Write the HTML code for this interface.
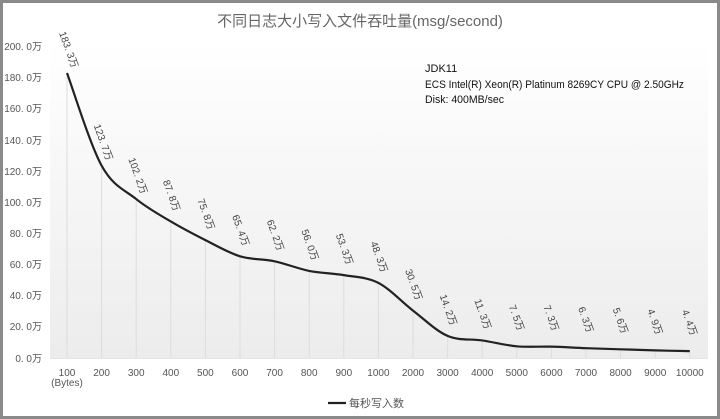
<!DOCTYPE html>
<html><head><meta charset="utf-8"><style>
html,body{margin:0;padding:0;background:#fff;}
svg{display:block;font-family:"Liberation Sans","Noto Sans CJK SC",sans-serif;}
</style></head><body>
<svg width="720" height="419" viewBox="0 0 720 419" xmlns="http://www.w3.org/2000/svg">
<defs><linearGradient id="g" x1="0" y1="0" x2="0" y2="1"><stop offset="0" stop-color="#fff"/><stop offset="1" stop-color="#ececec"/></linearGradient></defs>
<rect x="0" y="0" width="720" height="419" fill="#fff"/>
<rect x="50" y="40" width="658" height="318" fill="url(#g)"/>
<rect x="1.5" y="1.5" width="717" height="416" fill="none" stroke="#8a8a8a" stroke-width="3"/>
<text x="360" y="26" text-anchor="middle" font-size="15" fill="#666">不同日志大小写入文件吞吐量(msg/second)</text>
<g font-size="10" fill="#555" text-anchor="end">
<text x="42" y="50">200. 0万</text><text x="42" y="81">180. 0万</text><text x="42" y="112">160. 0万</text><text x="42" y="144">140. 0万</text><text x="42" y="175">120. 0万</text><text x="42" y="206">100. 0万</text><text x="42" y="237">80. 0万</text><text x="42" y="268">60. 0万</text><text x="42" y="299">40. 0万</text><text x="42" y="330">20. 0万</text><text x="42" y="362">0. 0万</text>
</g>
<g stroke="#ddd" stroke-width="1" id="grid"></g>
<line x1="50" y1="358.5" x2="708" y2="358.5" stroke="#e4e4e4"/>
<g font-size="10" fill="#555" text-anchor="middle" id="xl"></g>
<text x="67" y="386" font-size="10" fill="#555" text-anchor="middle">(Bytes)</text>
<path id="ln" fill="none" stroke="#222" stroke-width="2.2" stroke-linejoin="round"/>
<g font-size="10" fill="#444" id="dl"></g>
<g font-size="11" fill="#111"><text x="425" y="72">JDK11</text><text x="425" y="88" textLength="259" lengthAdjust="spacingAndGlyphs">ECS Intel(R) Xeon(R) Platinum 8269CY CPU @ 2.50GHz</text><text x="425" y="103" textLength="79" lengthAdjust="spacingAndGlyphs">Disk: 400MB/sec</text></g>
<line x1="328" y1="403" x2="346" y2="403" stroke="#222" stroke-width="2.2"/>
<text x="349" y="407" font-size="11" fill="#555">每秒写入数</text>
</svg>
<script>
var v=[183.3,123.7,102.2,87.8,75.8,65.4,62.2,56.0,53.3,48.3,30.5,14.2,11.3,7.5,7.3,6.3,5.6,4.9,4.4];
var xs=["100","200","300","400","500","600","700","800","900","1000","2000","3000","4000","5000","6000","7000","8000","9000","10000"];
var ns="http://www.w3.org/2000/svg",P=[];
for(var i=0;i<v.length;i++)P.push([67+34.6*i,358-1.555*v[i]]);
var d="M"+P[0][0]+","+P[0][1];
for(var i=0;i<P.length-1;i++){var p0=P[i-1]||P[i],p1=P[i],p2=P[i+1],p3=P[i+2]||P[i+1];
d+=" C"+(p1[0]+(p2[0]-p0[0])/6)+","+(p1[1]+(p2[1]-p0[1])/6)+" "+(p2[0]-(p3[0]-p1[0])/6)+","+(p2[1]-(p3[1]-p1[1])/6)+" "+p2[0]+","+p2[1];}
document.getElementById("ln").setAttribute("d",d);
var g=document.getElementById("grid"),xl=document.getElementById("xl"),dl=document.getElementById("dl");
for(var i=0;i<P.length;i++){var x=P[i][0];
var l=document.createElementNS(ns,"line");l.setAttribute("x1",x);l.setAttribute("x2",x);l.setAttribute("y1",P[i][1]);l.setAttribute("y2",358);g.appendChild(l);
var t=document.createElementNS(ns,"text");t.setAttribute("x",x);t.setAttribute("y",376);t.textContent=xs[i];xl.appendChild(t);
var a=document.createElementNS(ns,"text");var ax=x-8,ay=P[i][1]-40;a.setAttribute("x",ax);a.setAttribute("y",ay);a.setAttribute("transform","rotate(70 "+ax+" "+ay+")");a.textContent=v[i].toFixed(1).replace(".",". ")+"万";dl.appendChild(a);}
</script>
</body></html>
